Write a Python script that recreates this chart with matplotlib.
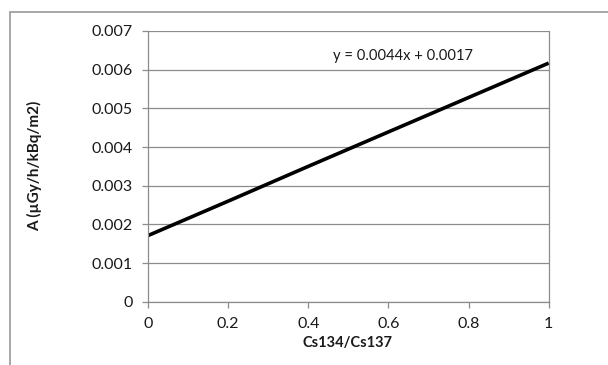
import numpy as np
import matplotlib
matplotlib.use("Agg")
import matplotlib.pyplot as plt
from matplotlib.patches import Rectangle

# valores
ratio = [0.0, 0.2, 0.4, 0.6, 0.8, 1.0]
tasa = [0.00171, 0.00260, 0.00350, 0.00439, 0.00528, 0.00617]
xticks = [0, 0.2, 0.4, 0.6, 0.8, 1]
yticks = [0, 0.001, 0.002, 0.003, 0.004, 0.005, 0.006, 0.007]
ecuacion = "y = 0.0044x + 0.0017"

plt.rcParams['font.family'] = ['Lato', 'DejaVu Sans']
gris = '#8c8c8c'

fig = plt.figure(figsize=(6.08, 3.65), dpi=100)
ax = fig.add_axes([148/608, 1-301.7/365, 400.7/608, 270.7/365])

# borde del area del grafico (estilo Excel)
fig.patches.append(Rectangle((10/608, -0.2), 1.2, 1-12/365+0.2, transform=fig.transFigure,
                             fill=False, edgecolor='#a0a0a0', linewidth=1.3))

ax.plot(ratio, tasa, color='black', linewidth=2.6, solid_capstyle='butt')
ax.set_xlim(0, 1)
ax.set_ylim(0, 0.007)
ax.set_xticks(xticks)
ax.set_xticklabels([str(v) for v in xticks])
ax.set_yticks(yticks)
ax.set_yticklabels(["0"] + ["%.3f" % v for v in yticks[1:]])
ax.grid(True, axis='y', color=gris, linewidth=0.9)
ax.set_axisbelow(True)
for s in ax.spines.values():
    s.set_color(gris)
    s.set_linewidth(0.9)
ax.spines['top'].set_visible(False)
ax.tick_params(axis='both', colors=gris, labelcolor='#1a1a1a', labelsize=11.5, length=4, width=0.9)
ax.tick_params(axis='x', pad=7)
ax.tick_params(axis='y', pad=7)

ax.text(0.636, 0.00636, ecuacion, ha='center', va='center', fontsize=10.6, color='#1a1a1a')

fig.text(35/608, 1-166/365, "A (µGy/h/kBq/m2)", rotation=90, ha='center', va='center',
         fontsize=11, fontweight='bold', color='#1a1a1a')
fig.text(348/608, 1-343/365, "Cs134/Cs137", ha='center', va='center',
         fontsize=10.5, fontweight='bold', color='#1a1a1a')

fig.savefig("out.png", dpi=100)
